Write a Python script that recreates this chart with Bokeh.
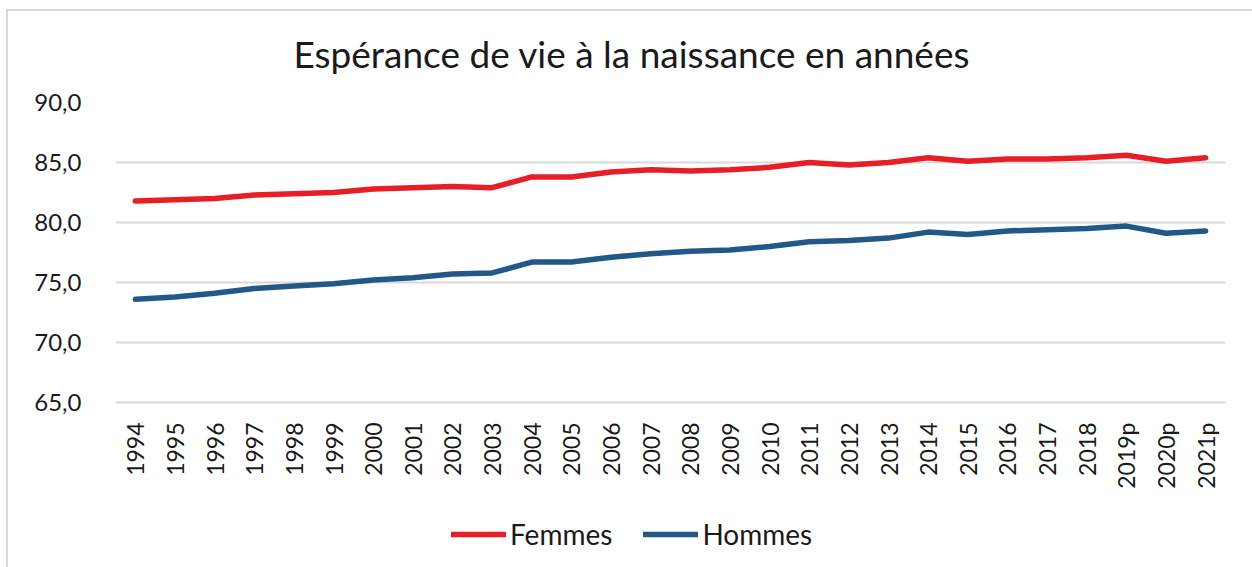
from bokeh.plotting import figure
from bokeh.models import Range1d, FactorRange, Legend, LegendItem, FixedTicker, Title
from bokeh.layouts import column
from bokeh.embed import file_html
from bokeh.resources import INLINE

years = ["1994", "1995", "1996", "1997", "1998", "1999", "2000", "2001", "2002", "2003",
         "2004", "2005", "2006", "2007", "2008", "2009", "2010", "2011", "2012", "2013",
         "2014", "2015", "2016", "2017", "2018", "2019p", "2020p", "2021p"]
femmes = [81.8, 81.9, 82.0, 82.3, 82.4, 82.5, 82.8, 82.9, 83.0, 82.9,
          83.8, 83.8, 84.2, 84.4, 84.3, 84.4, 84.6, 85.0, 84.8, 85.0,
          85.4, 85.1, 85.3, 85.3, 85.4, 85.6, 85.1, 85.4]
hommes = [73.6, 73.8, 74.1, 74.5, 74.7, 74.9, 75.2, 75.4, 75.7, 75.8,
          76.7, 76.7, 77.1, 77.4, 77.6, 77.7, 78.0, 78.4, 78.5, 78.7,
          79.2, 79.0, 79.3, 79.4, 79.5, 79.7, 79.1, 79.3]
y_ticks = [65, 70, 75, 80, 85, 90]
y_labels = ["65,0", "70,0", "75,0", "80,0", "85,0", "90,0"]
series_names = ["Femmes", "Hommes"]

FONT = "Lato"
RED = "#E81E26"
BLUE = "#225888"
TXT = "#1a1a1a"

p = figure(frame_width=1110, frame_height=300, x_range=FactorRange(factors=years),
           y_range=Range1d(65, 90), output_backend="svg", toolbar_location=None,
           min_border_left=115, min_border_right=27, min_border_top=102,
           min_border_bottom=98)
p.outline_line_color = None
p.border_fill_alpha = 0
p.background_fill_color = "white"

title = Title(text="Espérance de vie à la naissance en années", align="left",
              vertical_align="top",
              text_font=FONT, text_font_size="37px", text_font_style="normal",
              text_color=TXT, offset=178, standoff=50)
p.add_layout(title, "above")

p.line(years, femmes, line_color=RED, line_width=5.5, line_cap="round", line_join="round")
p.line(years, hommes, line_color=BLUE, line_width=5.5, line_cap="round", line_join="round")

p.yaxis.ticker = FixedTicker(ticks=y_ticks)
p.yaxis.major_label_overrides = {t: l for t, l in zip(y_ticks, y_labels)}
p.yaxis.axis_line_color = None
p.yaxis.major_tick_line_color = None
p.yaxis.minor_tick_line_color = None
p.yaxis.major_label_text_font = FONT
p.yaxis.major_label_text_font_size = "24px"
p.yaxis.major_label_text_color = TXT
p.yaxis.major_label_standoff = 28

p.xaxis.axis_line_color = "#d9d9d9"
p.xaxis.axis_line_width = 2
p.xaxis.major_tick_line_color = None
p.xaxis.minor_tick_line_color = None
p.xaxis.major_label_orientation = 1.5708
p.xaxis.major_label_text_font = FONT
p.xaxis.major_label_text_font_size = "23px"
p.xaxis.major_label_text_color = TXT
p.xaxis.major_label_standoff = 14

p.xgrid.grid_line_color = None
p.ygrid.grid_line_color = "#d9d9d9"
p.ygrid.grid_line_width = 2

# legend strip below the chart (its sample renderers fall outside its view)
lg = figure(width=1252, height=67, output_backend="svg", toolbar_location=None,
            min_border=0, x_axis_type=None, y_axis_type=None,
            x_range=FactorRange(factors=years), y_range=Range1d(0, 1))
lg.grid.visible = False
lg.outline_line_color = None
lg.border_fill_alpha = 0
lg.background_fill_alpha = 0
l1 = lg.line(years[:1], femmes[:1], line_color=RED, line_width=5.5, line_cap="round")
l2 = lg.line(years[:1], hommes[:1], line_color=BLUE, line_width=5.5, line_cap="round")
legend = Legend(items=[LegendItem(label=series_names[0], renderers=[l1]),
                       LegendItem(label=series_names[1], renderers=[l2])],
                orientation="horizontal", location=(336, 16),
                label_text_font=FONT, label_text_font_size="28px",
                label_text_color=TXT, glyph_width=55, glyph_height=20,
                label_standoff=4, spacing=31, border_line_color=None,
                background_fill_alpha=0, margin=0, padding=5)
lg.add_layout(legend, "center")

layout = column(p, lg, spacing=0)
layout.styles = {
    "background": ("linear-gradient(#d9d9d9, #d9d9d9) 6px 9px / 100% 2px no-repeat, "
                   "linear-gradient(#d9d9d9, #d9d9d9) 6px 9px / 2px 100% no-repeat, white"),
}

open("out.html", "w").write(file_html(layout, INLINE))
